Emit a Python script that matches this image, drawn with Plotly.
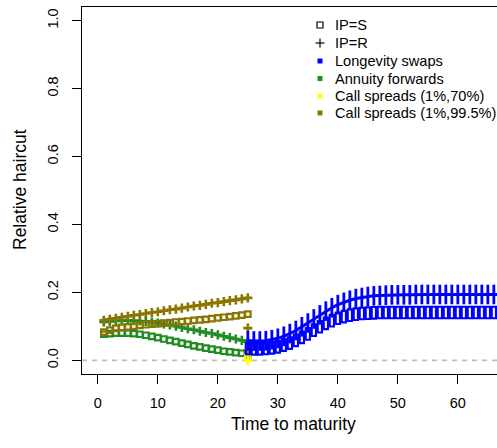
import plotly.graph_objects as go

# ---------------- data ----------------
t_short = list(range(1, 26))
t_long = list(range(25, 69))

annuity_S = [0.077, 0.079, 0.080, 0.080, 0.080, 0.079, 0.077, 0.074, 0.071, 0.067,
             0.063, 0.059, 0.055, 0.051, 0.047, 0.043, 0.040, 0.036, 0.033, 0.030,
             0.027, 0.025, 0.023, 0.021, 0.019]
annuity_R = [0.113, 0.115, 0.116, 0.117, 0.117, 0.117, 0.116, 0.115, 0.113, 0.110,
             0.107, 0.104, 0.101, 0.097, 0.093, 0.090, 0.086, 0.082, 0.079, 0.075,
             0.071, 0.067, 0.063, 0.059, 0.055]
call995_S = [0.083, 0.089, 0.094, 0.097, 0.099, 0.101, 0.103, 0.105, 0.107, 0.108,
             0.110, 0.111, 0.113, 0.114, 0.116, 0.118, 0.119, 0.121, 0.123, 0.125,
             0.127, 0.129, 0.131, 0.133, 0.136]
call995_R = [0.118, 0.121, 0.124, 0.127, 0.130, 0.133, 0.135, 0.138, 0.141, 0.143,
             0.146, 0.149, 0.151, 0.154, 0.157, 0.160, 0.162, 0.165, 0.168, 0.170,
             0.173, 0.176, 0.178, 0.181, 0.184]
# extra single-maturity points at t = 25
t_single = [25]
call995_extra_R = [0.095, 0.030]
call995_extra_S = [0.012]
call70_S = [0.009]
call70_R = [0.000]

longevity_S = [0.035, 0.034, 0.034, 0.035, 0.037, 0.040, 0.045, 0.051, 0.059, 0.068,
               0.078, 0.089, 0.099, 0.109, 0.117, 0.124, 0.129, 0.133, 0.136, 0.138,
               0.139, 0.140, 0.141, 0.141, 0.141, 0.141, 0.141, 0.141, 0.141, 0.141,
               0.141, 0.141, 0.141, 0.141, 0.141, 0.141, 0.141, 0.141, 0.141, 0.141,
               0.141, 0.141, 0.141, 0.141]
longevity_R = [0.058, 0.057, 0.057, 0.058, 0.061, 0.065, 0.071, 0.079, 0.088, 0.099,
               0.110, 0.122, 0.134, 0.145, 0.155, 0.164, 0.171, 0.177, 0.182, 0.185,
               0.188, 0.190, 0.191, 0.192, 0.193, 0.193, 0.193, 0.193, 0.194, 0.194,
               0.194, 0.194, 0.194, 0.194, 0.194, 0.194, 0.194, 0.194, 0.194, 0.194,
               0.194, 0.194, 0.194, 0.194]

x_ticks = [0, 10, 20, 30, 40, 50, 60]
y_ticks = [0.0, 0.2, 0.4, 0.6, 0.8, 1.0]

legend_labels = ["IP=S", "IP=R", "Longevity swaps", "Annuity forwards",
                 "Call spreads (1%,70%)", "Call spreads (1%,99.5%)"]

# ---------------- style ----------------
BLUE = "#0000FF"
GREEN = "#228B22"
YELLOW = "#FFFF00"
OLIVE = "#8B7500"
FONT = "Liberation Sans, Arial, sans-serif"
FS_TICK = 14.5
FS_LEG = 14.6
FS_TITLE = 17.5

W, H = 497, 448
ML, MR, MT, MB = 82, 0, 7, 74
PW, PH = W - ML - MR, H - MT - MB


def px_to_paper(px, py):
    return (px - ML) / PW, (H - MB - py) / PH


fig = go.Figure()


def sq(x, y, color):
    fig.add_trace(go.Scatter(x=x, y=y, mode="markers", showlegend=False, cliponaxis=True,
                             hoverinfo="skip",
                             marker=dict(symbol="square-open", size=5.5, color=color,
                                         line=dict(color=color, width=2.2))))


def plus(x, y, color):
    fig.add_trace(go.Scatter(x=x, y=y, mode="markers", showlegend=False, cliponaxis=True,
                             hoverinfo="skip",
                             marker=dict(symbol="cross-thin-open", size=6.5, color=color,
                                         line=dict(color=color, width=2.6))))


sq(t_short, annuity_S, GREEN)
plus(t_short, annuity_R, GREEN)
sq(t_short, call995_S, OLIVE)
plus(t_short, call995_R, OLIVE)
plus(t_single * 2, call995_extra_R, OLIVE)
sq(t_single, call995_extra_S, OLIVE)

# Longevity swaps, IP=R: continuous horizontal stroke + tall vertical strokes
fig.add_trace(go.Scatter(x=t_long, y=longevity_R, mode="lines+markers", showlegend=False,
                         hoverinfo="skip",
                         line=dict(color=BLUE, width=3),
                         marker=dict(symbol="line-ns-open", size=14, color=BLUE,
                                     line=dict(color=BLUE, width=2.8))))

# Longevity swaps, IP=S: tall hollow rectangles anchored at data points
shapes = []
for xv, yv in zip(t_long, longevity_S):
    shapes.append(dict(type="rect", xref="x", yref="y",
                       xsizemode="pixel", xanchor=xv, x0=-2.1, x1=2.1,
                       ysizemode="pixel", yanchor=yv, y0=-5.8, y1=5.8,
                       line=dict(color=BLUE, width=2.1), fillcolor="rgba(0,0,0,0)",
                       layer="above"))

sq(t_single, call70_S, YELLOW)
plus(t_single, call70_R, YELLOW)

# dashed zero line
shapes.append(dict(type="line", xref="paper", x0=0, x1=1, yref="y", y0=0, y1=0,
                   line=dict(color="#BEBEBE", width=1.6, dash="5px,5px"), layer="below"))

# ---------------- manual legend ----------------
annotations = []
rows_y = [25, 43, 61, 78.5, 96, 113]
sym_x, text_x = 320, 333
for i, (lab, ry) in enumerate(zip(legend_labels, rows_y)):
    px, py = px_to_paper(sym_x, ry)
    tx, _ = px_to_paper(text_x, ry)
    annotations.append(dict(x=tx, y=py, xref="paper", yref="paper", text=lab,
                            showarrow=False, xanchor="left", yanchor="middle",
                            font=dict(family=FONT, size=FS_LEG, color="black")))
    base = dict(xref="paper", yref="paper", xsizemode="pixel", ysizemode="pixel",
                xanchor=px, yanchor=py)
    if i == 0:
        shapes.append(dict(type="rect", x0=-3, x1=3, y0=-3, y1=3,
                           line=dict(color="black", width=1.2), **base))
    elif i == 1:
        shapes.append(dict(type="line", x0=-4.5, x1=4.5, y0=0, y1=0,
                           line=dict(color="black", width=1.2), **base))
        shapes.append(dict(type="line", x0=0, x1=0, y0=-4.5, y1=4.5,
                           line=dict(color="black", width=1.2), **base))
    else:
        col = [BLUE, GREEN, YELLOW, OLIVE][i - 2]
        shapes.append(dict(type="rect", x0=-2.5, x1=2.5, y0=-2.5, y1=2.5,
                           line=dict(width=0), fillcolor=col, **base))

# axis titles
tx, ty = px_to_paper(293, 424)
annotations.append(dict(x=tx, y=ty, xref="paper", yref="paper", text="Time to maturity",
                        showarrow=False, xanchor="center", yanchor="middle",
                        font=dict(family=FONT, size=FS_TITLE, color="black")))
tx, ty = px_to_paper(20, 190)
annotations.append(dict(x=tx, y=ty, xref="paper", yref="paper", text="Relative haircut",
                        showarrow=False, xanchor="center", yanchor="middle", textangle=-90,
                        font=dict(family=FONT, size=FS_TITLE, color="black")))

fig.update_layout(
    width=W, height=H,
    margin=dict(l=ML, r=MR, t=MT, b=MB, pad=0, autoexpand=False),
    paper_bgcolor="white", plot_bgcolor="white",
    showlegend=False, hovermode=False,
    font=dict(family=FONT, size=FS_TICK, color="black"),
    shapes=shapes, annotations=annotations,
    xaxis=dict(range=[-2.64, -2.64 + PW / 6.0], tickvals=x_ticks, showgrid=False,
               zeroline=False, showline=True, linecolor="black", linewidth=1,
               mirror=True, ticks="outside", ticklen=9, tickcolor="black",
               automargin=False,
               tickfont=dict(family=FONT, size=FS_TICK, color="black"),
               ticklabelstandoff=7),
    yaxis=dict(range=[-0.04, 1.04], tickvals=y_ticks, tickformat=".1f", showgrid=False,
               zeroline=False, showline=True, linecolor="black", linewidth=1,
               mirror=False, ticks="outside", ticklen=9, tickcolor="black",
               tickangle=-90, automargin=False,
               tickfont=dict(family=FONT, size=FS_TICK, color="black"),
               ticklabelstandoff=8),
)

fig.write_html("out.html", config={"displayModeBar": False, "staticPlot": True},
               post_script="document.body.style.margin='0';document.body.style.overflow='hidden';")
